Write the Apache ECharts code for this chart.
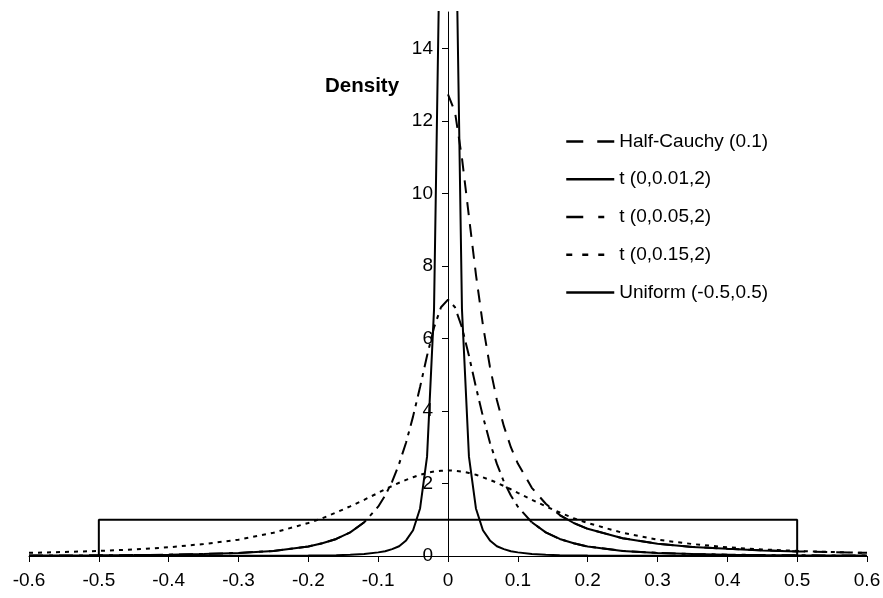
<!DOCTYPE html>
<html>
<head>
<meta charset="utf-8">
<script src="https://cdn.jsdelivr.net/npm/echarts@6/dist/echarts.min.js"></script>
<style>
  html, body { margin: 0; padding: 0; background: #fff; }
  #chart { width: 883px; height: 598px; }
</style>
</head>
<body>
<div id="chart"></div>
<script>
// x positions shared by the symmetric densities
const xGrid = [-0.6, -0.55, -0.5, -0.45, -0.4, -0.35, -0.3, -0.25, -0.2, -0.18, -0.16, -0.14, -0.12,
  -0.1, -0.09, -0.08, -0.07, -0.06, -0.05, -0.04, -0.03, -0.02, -0.01, 0,
  0.01, 0.02, 0.03, 0.04, 0.05, 0.06, 0.07, 0.08, 0.09, 0.1,
  0.12, 0.14, 0.16, 0.18, 0.2, 0.25, 0.3, 0.35, 0.4, 0.45, 0.5, 0.55, 0.6];

// t (0,0.01,2) density
const t001 = [0.001, 0.001, 0.001, 0.001, 0.002, 0.002, 0.004, 0.006, 0.012, 0.017, 0.024, 0.036, 0.057,
  0.10, 0.13, 0.19, 0.27, 0.43, 0.71, 1.31, 2.74, 6.80, 19.25, 35.36,
  19.25, 6.80, 2.74, 1.31, 0.71, 0.43, 0.27, 0.19, 0.13, 0.10,
  0.057, 0.036, 0.024, 0.017, 0.012, 0.006, 0.004, 0.002, 0.002, 0.001, 0.001, 0.001, 0.001];

// t (0,0.05,2) density
const t005 = [0.011, 0.015, 0.019, 0.026, 0.037, 0.055, 0.085, 0.14, 0.26, 0.35, 0.47, 0.65, 0.93,
  1.36, 1.67, 2.05, 2.54, 3.13, 3.85, 4.66, 5.52, 6.30, 6.86, 7.07,
  6.86, 6.30, 5.52, 4.66, 3.85, 3.13, 2.54, 2.05, 1.67, 1.36,
  0.93, 0.65, 0.47, 0.35, 0.26, 0.14, 0.085, 0.055, 0.037, 0.026, 0.019, 0.015, 0.011];

// t (0,0.15,2) density
const t015 = [0.087, 0.11, 0.14, 0.18, 0.24, 0.33, 0.45, 0.64, 0.91, 1.04, 1.20, 1.37, 1.55,
  1.74, 1.84, 1.93, 2.02, 2.10, 2.17, 2.24, 2.29, 2.33, 2.35, 2.36,
  2.35, 2.33, 2.29, 2.24, 2.17, 2.10, 2.02, 1.93, 1.84, 1.74,
  1.55, 1.37, 1.20, 1.04, 0.91, 0.64, 0.45, 0.33, 0.24, 0.18, 0.14, 0.11, 0.087];

// Half-Cauchy lives on x >= 0 only
const halfX = [0, 0.01, 0.02, 0.03, 0.04, 0.05, 0.06, 0.07, 0.08, 0.09, 0.1,
  0.12, 0.14, 0.16, 0.18, 0.2, 0.25, 0.3, 0.35, 0.4, 0.45, 0.5, 0.55, 0.6];
const halfCauchy = [12.73, 12.24, 10.97, 9.36, 7.76, 6.37, 5.22, 4.30, 3.58, 3.00, 2.55,
  1.88, 1.44, 1.13, 0.91, 0.75, 0.49, 0.34, 0.25, 0.20, 0.155, 0.126, 0.104, 0.088];

// Uniform (-0.5,0.5) box outline
const uniformX = [-0.5, -0.5, 0.5, 0.5];
const uniformY = [0, 1, 1, 0];

const yTicks = [0, 2, 4, 6, 8, 10, 12, 14];

const names = ['Half-Cauchy (0.1)', 't (0,0.01,2)', 't (0,0.05,2)', 't (0,0.15,2)', 'Uniform (-0.5,0.5)'];

// dash patterns: on the curves and in the legend keys
const curveDash = [[13, 9], 'solid', [14, 6, 4, 6], [4, 5], 'solid'];
const legendDash = [[17, 14], 'solid', [17, 15, 6, 10], [6, 10], 'solid'];

const zip = (xs, ys) => xs.map((x, i) => [x, ys[i]]);
const pick = (pts, test) => pts.filter(p => test(p[0]));

const hcPts = zip(halfX, halfCauchy);
const t005Pts = zip(xGrid, t005);

const FONT = '"Liberation Sans", Arial, sans-serif';
const GRID_LEFT = 29, GRID_RIGHT = 16;
const CHART_W = 883;
const X_MIN = -0.6, X_MAX = 0.6;

function line(name, data, type, z) {
  return {
    name: name,
    type: 'line',
    data: data,
    symbol: 'none',
    clip: true,
    z: z || 2,
    lineStyle: { color: '#000', width: 2, type: type },
    itemStyle: { color: '#000' }
  };
}

const chart = echarts.init(document.getElementById('chart'), null, { renderer: 'canvas' });

// vertical axis sits at x = 0, moved inward from the grid's left edge
const plotW = CHART_W - GRID_LEFT - GRID_RIGHT;
const yAxisOffset = -plotW * (0 - X_MIN) / (X_MAX - X_MIN);

chart.setOption({
  animation: false,
  backgroundColor: '#fff',
  title: {
    text: 'Density',
    left: 320,
    top: 71,
    textStyle: { fontFamily: FONT, fontSize: 20.5, fontWeight: 'bold', color: '#000' }
  },
  legend: {
    orient: 'vertical',
    left: 565,
    top: 132,
    padding: 0,
    itemWidth: 48,
    itemHeight: 14,
    itemGap: 18.75,
    data: names.map((n, i) => ({
      name: n,
      lineStyle: { color: '#000', width: 2.5, type: legendDash[i] }
    })),
    itemStyle: { opacity: 0 },
    textStyle: { fontFamily: FONT, fontSize: 19, color: '#000' }
  },
  grid: { left: GRID_LEFT, right: GRID_RIGHT, top: 12, bottom: 42, containLabel: false, outerBoundsMode: 'none' },
  xAxis: {
    type: 'value',
    min: X_MIN,
    max: X_MAX,
    interval: 0.1,
    splitLine: { show: false },
    axisLine: { onZero: false, lineStyle: { color: '#000', width: 1 } },
    axisTick: { show: true, length: 6, lineStyle: { color: '#000' } },
    axisLabel: { color: '#000', fontFamily: FONT, fontSize: 19, margin: 15 }
  },
  yAxis: {
    type: 'value',
    min: 0,
    max: 15,
    interval: 2,
    position: 'left',
    offset: yAxisOffset,
    splitLine: { show: false },
    axisLine: { show: true, onZero: false, lineStyle: { color: '#000', width: 1 } },
    axisTick: { show: true, length: 6, customValues: yTicks, lineStyle: { color: '#000' } },
    axisLabel: { color: '#000', fontFamily: FONT, fontSize: 19, margin: 15, customValues: yTicks }
  },
  series: [
    line(names[0], hcPts, curveDash[0]),
    line(names[1], zip(xGrid, t001), curveDash[1]),
    line(names[2], t005Pts, curveDash[2]),
    line(names[3], zip(xGrid, t015), curveDash[3]),
    line(names[4], zip(uniformX, uniformY), curveDash[4]),
    // flat tails drawn as continuous strokes
    line(names[0], pick(hcPts, x => x >= 0.16 && x <= 0.5), 'solid', 3),
    line(names[2], pick(t005Pts, x => x <= -0.12), 'solid', 3),
    line(names[2], pick(t005Pts, x => x >= 0.12), 'solid', 3)
  ]
});
</script>
</body>
</html>
